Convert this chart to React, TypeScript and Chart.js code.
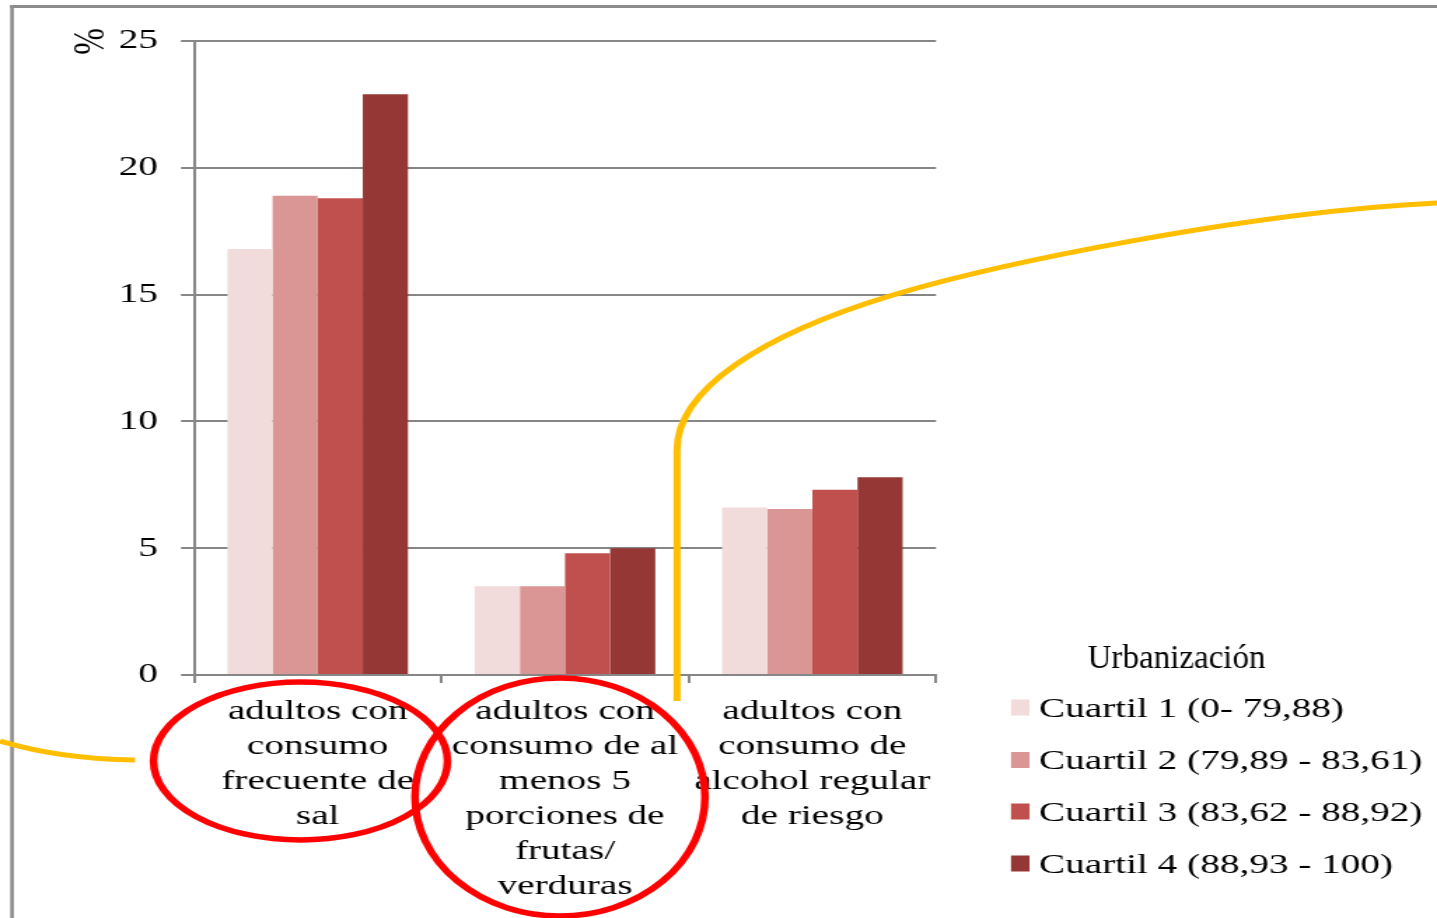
import React, { useEffect, useRef } from 'react';
import { Chart, registerables } from 'chart.js';

Chart.register(...registerables);

// ---- data ----
const categories: string[][] = [
  ['adultos con', 'consumo', 'frecuente de', 'sal'],
  ['adultos con', 'consumo de al', 'menos 5', 'porciones de', 'frutas/', 'verduras'],
  ['adultos con', 'consumo de', 'alcohol regular', 'de riesgo'],
];
const seriesLabels = [
  'Cuartil 1 (0- 79,88)',
  'Cuartil 2 (79,89 - 83,61)',
  'Cuartil 3 (83,62 - 88,92)',
  'Cuartil 4 (88,93 - 100)',
];
const cuartil1 = [16.8, 3.5, 6.6];
const cuartil2 = [18.9, 3.5, 6.55];
const cuartil3 = [18.8, 4.8, 7.3];
const cuartil4 = [22.9, 5.0, 7.8];
const yTicks = [0, 5, 10, 15, 20, 25];
const legendTitle = 'Urbanización';
const yTitle = '%';

const colors = ['#F2DCDB', '#D99694', '#C0504D', '#953735'];

// ---- layout (canvas drawn narrow, stretched horizontally like the reference) ----
const OUT_W = 1437;
const H = 918;
const W = 1026;
const S = OUT_W / W;
const sx = (x: number) => x / S;
const FONT = '"Liberation Serif", "Times New Roman", serif';
const GRID = '#868686';

const decor = {
  id: 'decor',
  afterDraw(chart: any) {
    const ctx: CanvasRenderingContext2D = chart.ctx;
    ctx.save();

    // outer frame (left and top)
    ctx.strokeStyle = '#8c8c8c';
    ctx.lineWidth = 2.6;
    ctx.beginPath();
    ctx.moveTo(sx(12), H);
    ctx.lineTo(sx(12), 5);
    ctx.stroke();
    ctx.lineWidth = 3;
    ctx.beginPath();
    ctx.moveTo(sx(10), 6.5);
    ctx.lineTo(W, 6.5);
    ctx.stroke();

    // y title
    ctx.fillStyle = '#000';
    ctx.save();
    ctx.font = `32px ${FONT}`;
    ctx.translate(sx(92), 41.5);
    ctx.rotate(-Math.PI / 2);
    ctx.textAlign = 'center';
    ctx.textBaseline = 'middle';
    ctx.fillText(yTitle, 0, 0);
    ctx.restore();

    // legend title (not stretched in the reference)
    ctx.save();
    ctx.font = `33px ${FONT}`;
    ctx.textAlign = 'center';
    ctx.textBaseline = 'alphabetic';
    ctx.translate(sx(1176.5), 668);
    ctx.scale(1 / S, 1);
    ctx.fillText(legendTitle, 0, 0);
    ctx.restore();

    // legend items
    ctx.font = `28px ${FONT}`;
    ctx.textBaseline = 'alphabetic';
    const centers = [707.5, 760, 811.5, 863.5];
    chart.data.datasets.forEach((ds: any, i: number) => {
      const c = centers[i];
      ctx.fillStyle = ds.backgroundColor;
      ctx.fillRect(sx(1011), c - 8, sx(1029.5) - sx(1011), 16);
      ctx.fillStyle = '#000';
      ctx.textAlign = 'left';
      ctx.fillText(ds.label, sx(1039), c + 9.3);
    });

    // orange connector curves
    ctx.strokeStyle = '#FFBE00';
    ctx.lineWidth = 5;
    ctx.lineCap = 'butt';
    ctx.beginPath();
    ctx.moveTo(sx(0), 741);
    ctx.quadraticCurveTo(sx(60), 759, sx(135), 760);
    ctx.stroke();

    ctx.beginPath();
    ctx.moveTo(sx(677), 701);
    ctx.lineTo(sx(677), 450);
    ctx.bezierCurveTo(sx(677), 390, sx(760), 335, sx(893), 295);
    ctx.bezierCurveTo(sx(1000), 263, sx(1250), 212, sx(1437), 203);
    ctx.stroke();

    // red ellipses
    ctx.strokeStyle = '#FF0000';
    ctx.lineWidth = 5.5;
    ctx.beginPath();
    ctx.ellipse(sx(300.5), 761, sx(447.5) - sx(300.5), 79, 0, 0, Math.PI * 2);
    ctx.stroke();
    ctx.beginPath();
    ctx.ellipse(sx(560), 797, sx(705) - sx(560), 119, 0, 0, Math.PI * 2);
    ctx.stroke();

    ctx.restore();
  },
};

export default function App() {
  const ref = useRef<HTMLCanvasElement | null>(null);

  useEffect(() => {
    if (!ref.current) return;
    const series = [cuartil1, cuartil2, cuartil3, cuartil4];
    const chart = new Chart(ref.current, {
      type: 'bar',
      data: {
        labels: categories,
        datasets: series.map((d, i) => ({
          label: seriesLabels[i],
          data: d,
          backgroundColor: colors[i],
          borderWidth: 0,
          categoryPercentage: 0.73,
          barPercentage: 1.0,
        })),
      },
      options: {
        animation: false,
        responsive: false,
        devicePixelRatio: 1,
        layout: { padding: { top: 41, right: W - sx(936), left: 0, bottom: 0 } },
        plugins: {
          legend: { display: false },
          tooltip: { enabled: false },
          title: { display: false },
        },
        scales: {
          x: {
            type: 'category',
            offset: true,
            grid: {
              display: true,
              offset: true,
              drawOnChartArea: false,
              drawTicks: true,
              tickLength: 8,
              color: GRID,
              lineWidth: 2,
            },
            border: { display: true, color: GRID, width: 2 },
            ticks: {
              color: '#000',
              font: { family: FONT, size: 28, lineHeight: 1.25 },
              padding: 11,
              maxRotation: 0,
              minRotation: 0,
              autoSkip: false,
            },
            afterFit: (scale: any) => {
              scale.height = H - 675;
            },
          },
          y: {
            min: 0,
            max: 25,
            grid: {
              color: GRID,
              lineWidth: 2,
              tickLength: sx(194) - sx(181),
              drawTicks: true,
            },
            border: { display: true, color: GRID, width: 2 },
            ticks: {
              color: '#000',
              font: { family: FONT, size: 28 },
              padding: sx(181) - sx(158),
              stepSize: 5,
            },
            afterBuildTicks: (scale: any) => {
              scale.ticks = yTicks.map((v) => ({ value: v }));
            },
            afterFit: (scale: any) => {
              scale.width = sx(194);
            },
          },
        },
      },
      plugins: [decor],
    } as any);
    return () => chart.destroy();
  }, []);

  return (
    <div style={{ position: 'absolute', left: 0, top: 0, width: OUT_W, height: H, background: '#fff' }}>
      <canvas
        ref={ref}
        width={W}
        height={H}
        style={{ width: `${OUT_W}px`, height: `${H}px`, display: 'block' }}
      />
    </div>
  );
}
